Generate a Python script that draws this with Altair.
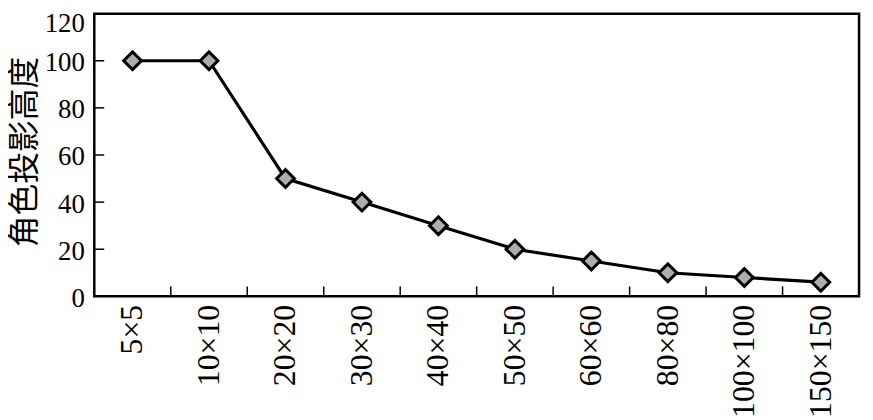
import altair as alt
import pandas as pd

categories = ["5×5", "10×10", "20×20", "30×30", "40×40", "50×50",
              "60×60", "80×80", "100×100", "150×150"]
heights = [100, 100, 50, 40, 30, 20, 15, 10, 8, 6]
y_ticks = [20, 40, 60, 80, 100]

df = pd.DataFrame({"cat": categories, "h": heights})
ytick_df = pd.DataFrame({"v": y_ticks})
xtick_df = pd.DataFrame({"cat": categories[1:]})

W, H = 771, 285
serif = "Liberation Serif"

xscale = alt.Scale(type="band", paddingInner=0, paddingOuter=0, domain=categories)
yscale = alt.Scale(domain=[0, 120], nice=False, zero=True)

x_axis = alt.Axis(title=None, labelAngle=-90, labelFont=serif, labelFontSize=32,
                  labelColor="black", ticks=False, domain=False, labelPadding=8,
                  grid=False)
y_axis = alt.Axis(title="角色投影高度", titleFont="Noto Sans CJK SC", titleFontSize=32,
                  titleFontWeight="normal", titleColor="black",
                  titleX=-70, titleY=139, titleBaseline="middle",
                  labelFont=serif, labelFontSize=27, labelColor="black",
                  values=[0, 20, 40, 60, 80, 100, 120], ticks=False, domain=False,
                  labelPadding=10,
                  labelOffset={"condition": {"test": "datum.value == 120", "value": 10}, "value": 2},
                  grid=False)

line = alt.Chart(df).mark_line(color="black", strokeWidth=3.2).encode(
    x=alt.X("cat:N", sort=categories, scale=xscale, axis=x_axis),
    y=alt.Y("h:Q", scale=yscale, axis=y_axis),
)
points = alt.Chart(df).mark_point(shape="diamond", filled=True, fill="#adadad",
                                  stroke="black", strokeWidth=3, size=320, opacity=1).encode(
    x=alt.X("cat:N", sort=categories, scale=xscale),
    y=alt.Y("h:Q", scale=yscale),
)
yt = alt.Chart(ytick_df).mark_rule(color="black", strokeWidth=1.5).encode(
    y=alt.Y("v:Q", scale=yscale),
    x=alt.value(0), x2=alt.value(10),
)
xt = alt.Chart(xtick_df).mark_rule(color="black", strokeWidth=1.5).encode(
    x=alt.X("cat:N", sort=categories, scale=xscale, bandPosition=0),
    y=alt.value(H), y2=alt.value(H - 10),
)

chart = alt.layer(yt, xt, line, points).properties(
    width=W, height=H,
    background="white",
    autosize=alt.AutoSizeParams(type="none"),
    padding={"left": 87, "top": 4, "right": 6, "bottom": 125},
).configure_view(stroke="black", strokeWidth=2.5)

chart.save("out.html", embed_options={"renderer": "svg", "actions": False})
